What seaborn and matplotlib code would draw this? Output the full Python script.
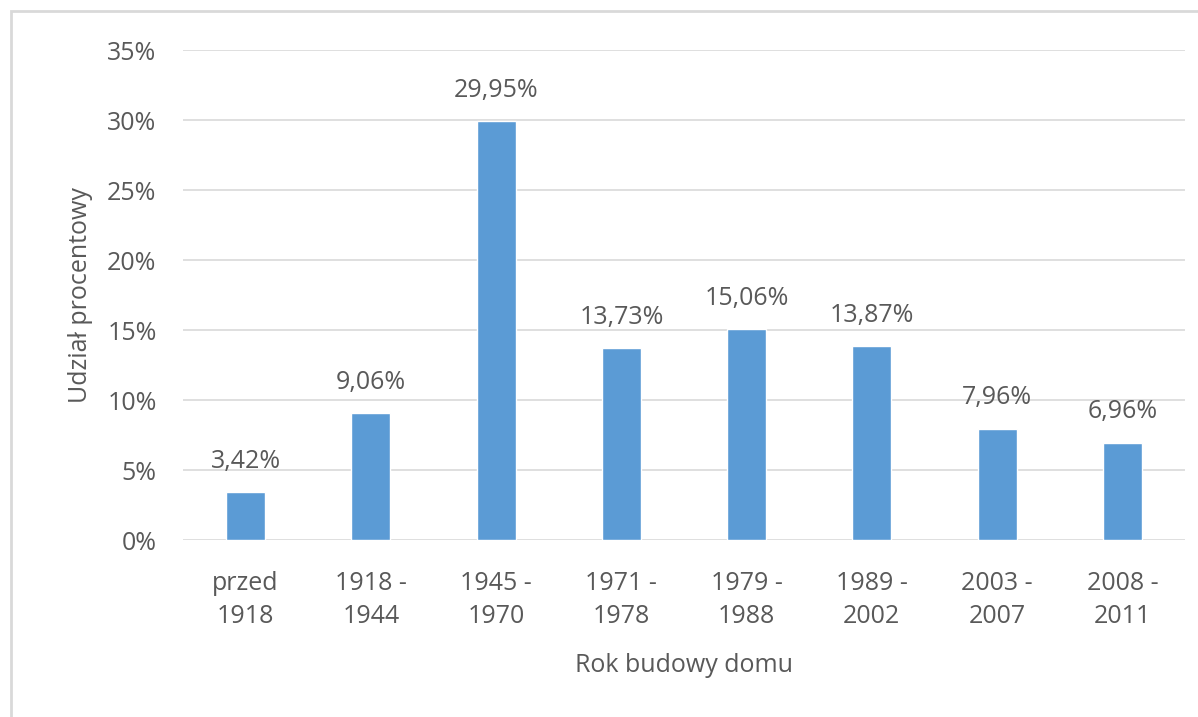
import matplotlib
matplotlib.use("Agg")
import matplotlib.pyplot as plt
import matplotlib.patches as mpatches
import seaborn as sns
import pandas as pd

categories = ["przed\n1918", "1918 -\n1944", "1945 -\n1970", "1971 -\n1978",
              "1979 -\n1988", "1989 -\n2002", "2003 -\n2007", "2008 -\n2011"]
values = [3.42, 9.06, 29.95, 13.73, 15.06, 13.87, 7.96, 6.96]
yticks = [0, 5, 10, 15, 20, 25, 30, 35]

sns.set_theme(style="white")
plt.rcParams['font.family'] = ['Open Sans', 'DejaVu Sans']
TXT = "#595959"
FS = 18

df = pd.DataFrame({"cat": categories, "val": values})

fig = plt.figure(figsize=(11.98, 7.17), dpi=100)
ax = fig.add_axes([183/1198, 1-540/717, (1185-183)/1198, (540-50)/717])

sns.barplot(data=df, x="cat", y="val", color="#5B9BD5", width=0.31,
            saturation=1, ax=ax, zorder=3)

ax.set_ylim(0, 35)
ax.set_xlim(-0.5, len(categories)-0.5)
ax.set_yticks(yticks)
ax.set_yticklabels([f"{t}%" for t in yticks], color=TXT, fontsize=FS)
ax.tick_params(axis='x', colors=TXT, labelsize=FS, length=0, pad=22)
ax.tick_params(axis='y', length=0, pad=19)
for lbl in ax.get_xticklabels():
    lbl.set_linespacing(1.45)
ax.yaxis.grid(True, color="#D9D9D9", linewidth=1.2, zorder=0)
ax.set_axisbelow(True)
for s in ax.spines.values():
    s.set_visible(False)

for i, v in enumerate(values):
    ax.text(i, v + 1.3, f"{v:.2f}%".replace(".", ","), ha="center", va="bottom",
            color=TXT, fontsize=FS)

ax.set_xlabel("Rok budowy domu", color=TXT, fontsize=FS, labelpad=17)
ax.set_ylabel("Udział procentowy", color=TXT, fontsize=FS, labelpad=10)

fig.patches.append(mpatches.Rectangle((11/1198, -0.1), 1.2, 1-11/717+0.1,
                   transform=fig.transFigure, fill=False,
                   edgecolor="#D9D9D9", linewidth=2))

fig.savefig("out.png", dpi=100)
